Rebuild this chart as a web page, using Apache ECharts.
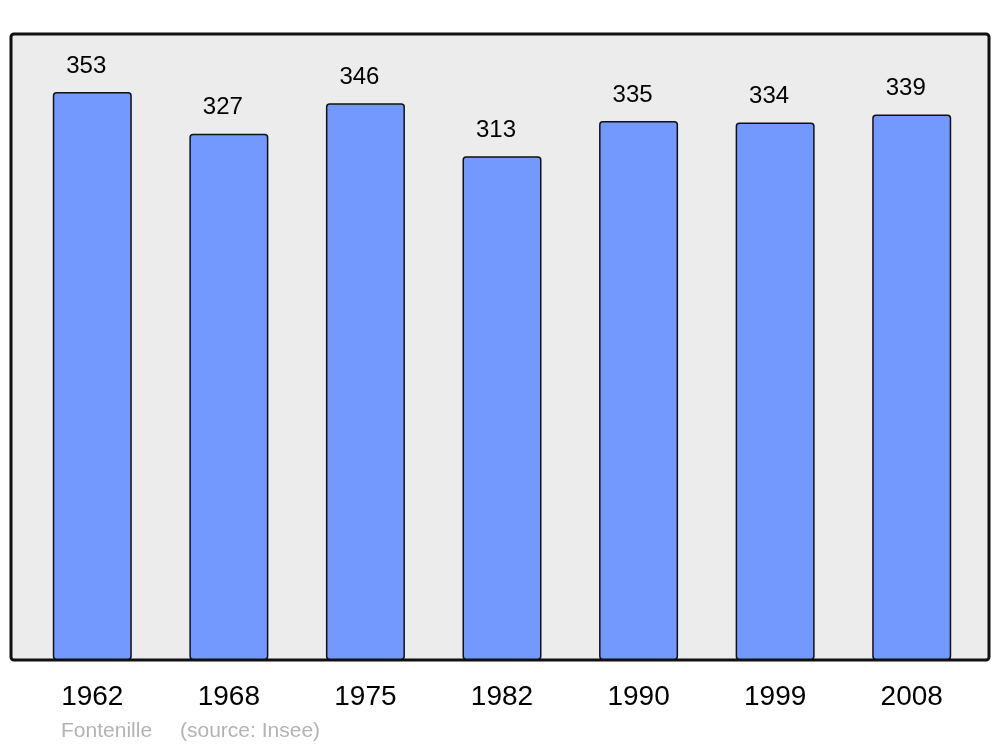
<!DOCTYPE html>
<html><head><meta charset="utf-8">
<script src="https://cdn.jsdelivr.net/npm/echarts@6/dist/echarts.min.js"></script>
<style>html,body{margin:0;padding:0;background:#fff}#c{width:1000px;height:747px}</style>
</head><body><div id="c"></div>
<script>
const categories = ['1962','1968','1975','1982','1990','1999','2008'];
const population = [353,327,346,313,335,334,339];
const footerName = 'Fontenille';
const footerSource = '(source: Insee)';

const chart = echarts.init(document.getElementById('c'), null, {renderer:'canvas'});
const FONT = '"Liberation Sans", Arial, sans-serif';
chart.setOption({
  animation:false,
  backgroundColor:'#ffffff',
  grid:{left:24, right:20, top:34, bottom:87, containLabel:false},
  graphic:[
    {type:'rect', z:-10, shape:{x:11,y:34,width:978,height:626,r:3},
     style:{fill:'#ececec', stroke:'#111111', lineWidth:3}},
    {type:'text', left:61, top:721, style:{text:footerName, fill:'#b3b3b3', font:'21px '+FONT}},
    {type:'text', left:180, top:721, style:{text:footerSource, fill:'#b3b3b3', font:'21px '+FONT}}
  ],
  xAxis:{type:'category', data:categories,
    axisLine:{show:false}, axisTick:{show:false}, splitLine:{show:false},
    axisLabel:{fontSize:28, color:'#000', fontFamily:FONT, margin:23}},
  yAxis:{type:'value', min:0, max:389, show:false, splitLine:{show:false}},
  series:[{type:'bar', data:population, barWidth:79,
    itemStyle:{color:'#7399ff', borderColor:'#111111', borderWidth:1.5, borderRadius:3},
    label:{show:true, position:'top', distance:14, offset:[-6,0], fontSize:24, color:'#000', fontFamily:FONT}
  }]
});
</script></body></html>
